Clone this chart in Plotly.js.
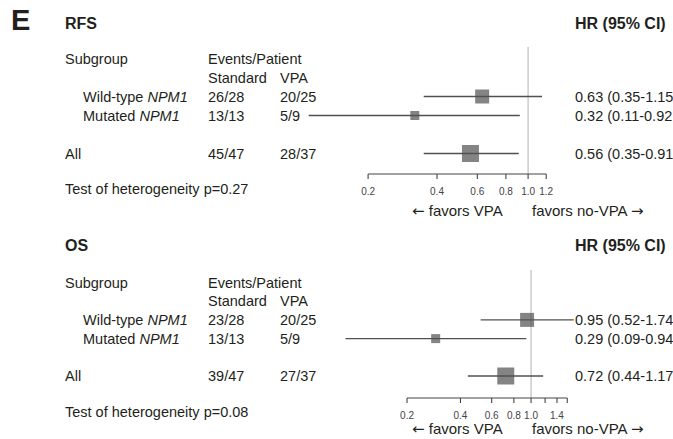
<!DOCTYPE html>
<html><head><meta charset="utf-8">
<script src="https://cdn.plot.ly/plotly-3.0.1.min.js"></script>
<style>html,body{margin:0;padding:0;background:#fff}#chart{width:673px;height:439px}</style>
</head><body><div id="chart"></div>
<script>
// ---------- data ----------
const panelLetter = 'E';
const subgroups = ['Wild-type <i>NPM1</i>', 'Mutated <i>NPM1</i>', 'All'];

const rfsTitle = 'RFS';
const rfsStandard = ['26/28', '13/13', '45/47'];
const rfsVPA = ['20/25', '5/9', '28/37'];
const rfsHR = [0.63, 0.32, 0.56];
const rfsLo = [0.35, 0.11, 0.35];
const rfsHi = [1.15, 0.92, 0.91];
const rfsHetP = '0.27';
const rfsTicks = [0.2, 0.4, 0.6, 0.8, 1.0, 1.2];
const rfsTickText = ['0.2', '0.4', '0.6', '0.8', '1.0', '1.2'];

const osTitle = 'OS';
const osStandard = ['23/28', '13/13', '39/47'];
const osVPA = ['20/25', '5/9', '27/37'];
const osHR = [0.95, 0.29, 0.72];
const osLo = [0.52, 0.09, 0.44];
const osHi = [1.74, 0.94, 1.17];
const osHetP = '0.08';
const osTicks = [0.2, 0.4, 0.6, 0.8, 1.0, 1.2, 1.4, 1.6];
const osTickText = ['0.2', '0.4', '0.6', '0.8', '1.0', '', '1.4', ''];

const refHR = 1;
const favorLeft = 'favors VPA';
const favorRight = 'favors no-VPA';

// ---------- layout helpers ----------
const W = 673, H = 439;
const FONT = 'Liberation Sans, Arial, Helvetica, sans-serif';
const ARROWFONT = 'DejaVu Sans';
const TXT = '#231f20';
const MARK = '#505050';
const AXC = '#444444';
const rowPos = [3, 2, 0];          // row slots for subgroup rows
const boxSizes = [14, 9, 17];      // square marker sizes
const PAD = 9;                     // plot area extends this many px below the drawn axis line
const TICKLEN = 5;
const px = v => v / W;
const py = v => 1 - v / H;

const panels = [
  {title: rfsTitle, std: rfsStandard, vpa: rfsVPA, hr: rfsHR, lo: rfsLo, hi: rfsHi, het: rfsHetP,
   ticks: rfsTicks, tickText: rfsTickText, xa: 'x', ya: 'y',
   axisPx: 174, topPx: 47, allPx: 153.5, rowPx: 19,
   titleY: 24, testY: 189, favY: 211},
  {title: osTitle, std: osStandard, vpa: osVPA, hr: osHR, lo: osLo, hi: osHi, het: osHetP,
   ticks: osTicks, tickText: osTickText, xa: 'x2', ya: 'y2',
   axisPx: 398, topPx: 270, allPx: 376, rowPx: 18.7,
   titleY: 245, testY: 412, favY: 429}
];

const traces = [];
const annotations = [];
const shapes = [];

function ann(o) {
  annotations.push(Object.assign({showarrow: false, xanchor: 'left', yanchor: 'middle',
    font: {family: FONT, size: 14.5, color: TXT}}, o));
}

ann({text: '<b>' + panelLetter + '</b>', xref: 'paper', yref: 'paper', x: px(9), y: py(20),
     font: {family: FONT, size: 29, color: TXT}});

panels.forEach(pn => {
  const axisY = -(pn.axisPx - pn.allPx) / pn.rowPx;   // y value of the drawn axis line
  const topY = (pn.allPx - pn.topPx) / pn.rowPx;       // top of the plot area
  const tickDy = TICKLEN / pn.rowPx;

  // reference line at HR = 1
  shapes.push({type: 'line', layer: 'below', xref: pn.xa, yref: pn.ya,
    x0: refHR, x1: refHR, y0: axisY, y1: topY,
    line: {color: '#cccccc', width: 1.5}});

  // axis baseline + downward tick marks, built from the tick values
  const bx = [pn.ticks[0], pn.ticks[pn.ticks.length - 1], null];
  const by = [axisY, axisY, null];
  pn.ticks.forEach(t => { bx.push(t, t, null); by.push(axisY, axisY - tickDy, null); });
  traces.push({type: 'scatter', mode: 'lines', x: bx, y: by, xaxis: pn.xa, yaxis: pn.ya,
    line: {color: AXC, width: 1.1}, hoverinfo: 'skip', showlegend: false});

  // CI lines
  const lx = [], ly = [];
  pn.hr.forEach((h, i) => { lx.push(pn.lo[i], pn.hi[i], null); ly.push(rowPos[i], rowPos[i], null); });
  traces.push({type: 'scatter', mode: 'lines', x: lx, y: ly, xaxis: pn.xa, yaxis: pn.ya,
    line: {color: MARK, width: 1.4}, hoverinfo: 'skip', showlegend: false});
  // HR squares
  traces.push({type: 'scatter', mode: 'markers', x: pn.hr, y: rowPos, xaxis: pn.xa, yaxis: pn.ya,
    marker: {symbol: 'square', size: boxSizes, color: MARK, line: {width: 0}},
    hoverinfo: 'skip', showlegend: false});

  // headers
  ann({text: '<b>' + pn.title + '</b>', xref: 'paper', yref: 'paper', x: px(63), y: py(pn.titleY),
       font: {family: FONT, size: 16, color: TXT}});
  ann({text: '<b>HR (95% CI)</b>', xref: 'paper', yref: 'paper', x: px(573), y: py(pn.titleY),
       font: {family: FONT, size: 16, color: TXT}});
  ann({text: 'Subgroup', xref: 'paper', yref: pn.ya, x: px(63), y: 5});
  ann({text: 'Events/Patient', xref: 'paper', yref: pn.ya, x: px(206), y: 5});
  ann({text: 'Standard', xref: 'paper', yref: pn.ya, x: px(206), y: 4});
  ann({text: 'VPA', xref: 'paper', yref: pn.ya, x: px(278), y: 4});

  subgroups.forEach((s, i) => {
    const indent = (i < 2) ? 81 : 63;
    ann({text: s, xref: 'paper', yref: pn.ya, x: px(indent), y: rowPos[i]});
    ann({text: pn.std[i], xref: 'paper', yref: pn.ya, x: px(206), y: rowPos[i]});
    ann({text: pn.vpa[i], xref: 'paper', yref: pn.ya, x: px(278), y: rowPos[i]});
    // the right edge of the figure crops the closing parenthesis in the reference
    ann({text: pn.hr[i].toFixed(2) + ' (' + pn.lo[i].toFixed(2) + '-' + pn.hi[i].toFixed(2),
         xref: 'paper', yref: pn.ya, x: px(573), y: rowPos[i]});
  });

  ann({text: 'Test of heterogeneity p=' + pn.het, xref: 'paper', yref: 'paper', x: px(63), y: py(pn.testY)});
  ann({text: '<span style="font-family:' + ARROWFONT + '">\u2190</span> ' + favorLeft,
       xref: 'paper', yref: 'paper', x: px(410), y: py(pn.favY),
       font: {family: FONT, size: 15, color: TXT}});
  ann({text: favorRight + ' <span style="font-family:' + ARROWFONT + '">\u2192</span>',
       xref: 'paper', yref: 'paper', x: px(530), y: py(pn.favY),
       font: {family: FONT, size: 15, color: TXT}});
});

function xaxisDef(ticks, tickText, range, anchor) {
  return {type: 'log', range: range, domain: [0, 1], anchor: anchor,
    showline: false, showgrid: false, zeroline: false,
    tickmode: 'array', tickvals: ticks, ticktext: tickText,
    ticks: '', ticklabelstandoff: 1,
    tickfont: {family: FONT, size: 10, color: AXC}};
}
function yaxisDef(pn) {
  return {domain: [py(pn.axisPx + PAD), py(pn.topPx)],
    range: [-(pn.axisPx + PAD - pn.allPx) / pn.rowPx, (pn.allPx - pn.topPx) / pn.rowPx],
    visible: false, showgrid: false, zeroline: false};
}

const layout = {
  width: W, height: H,
  margin: {l: 0, r: 0, t: 0, b: 0},
  showlegend: false,
  font: {family: FONT, color: TXT},
  xaxis: xaxisDef(rfsTicks, rfsTickText, [-2.307, 0.633], 'y'),
  yaxis: yaxisDef(panels[0]),
  xaxis2: xaxisDef(osTicks, osTickText, [-2.993, 0.800], 'y2'),
  yaxis2: yaxisDef(panels[1]),
  shapes: shapes,
  annotations: annotations
};

Plotly.newPlot('chart', traces, layout, {displayModeBar: false, staticPlot: true});
</script>
</body></html>
